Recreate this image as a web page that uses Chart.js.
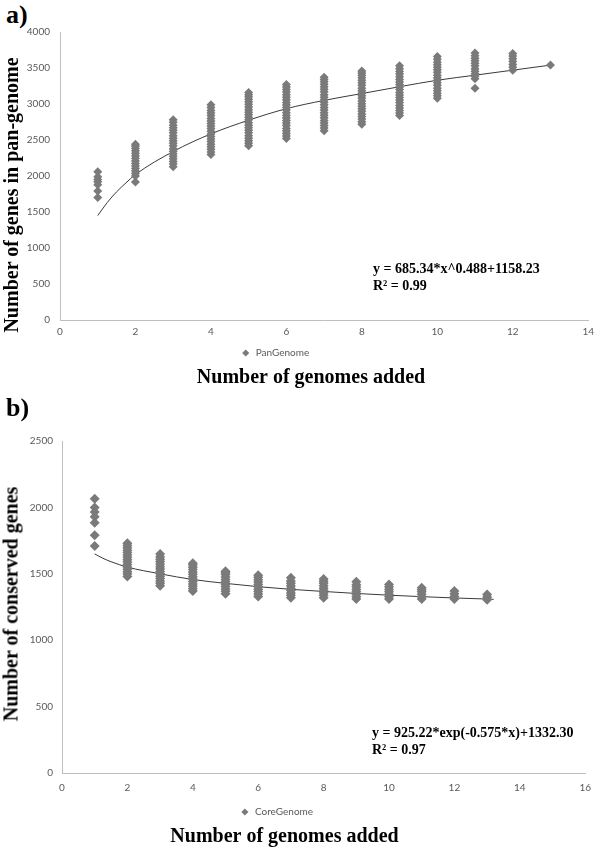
<!DOCTYPE html>
<html lang="en">
<head>
<meta charset="UTF-8">
<title>Pan-genome / core-genome</title>
<script src="https://cdn.jsdelivr.net/npm/chart.js"></script>
<style>
  body { margin: 0; width: 600px; height: 848px; background: #fff; position: relative; overflow: hidden; }
  .panel { position: absolute; left: 0; width: 600px; }
  .tag { position: absolute; font: bold 26px 'Liberation Serif', 'Times New Roman', serif; color: #000; line-height: 26px; }
  .eq { position: absolute; font: bold 14px 'Liberation Serif', 'Times New Roman', serif; line-height: 17px; color: #000; white-space: nowrap; }
  .ytitle { position: absolute; font: bold 20px 'Liberation Serif', 'Times New Roman', serif; color: #000; white-space: nowrap;
            transform: translate(-50%, -50%) rotate(-90deg); }
</style>
</head>
<body>
  <div class="tag" style="left:6px; top:2px;">a)</div>
  <div class="panel" style="top:0; height:395px;"><canvas id="panChart"></canvas></div>
  <div class="ytitle" style="left:11px; top:195px;">Number of genes in pan-genome</div>
  <div class="eq" style="left:373px; top:260px;">y = 685.34*x^0.488+1158.23<br>R² = 0.99</div>

  <div class="tag" style="left:6px; top:395px;">b)</div>
  <div class="panel" style="top:395px; height:453px;"><canvas id="coreChart"></canvas></div>
  <div class="ytitle" style="left:11px; top:604px;">Number of conserved genes</div>
  <div class="eq" style="left:372px; top:724px;">y = 925.22*exp(-0.575*x)+1332.30<br>R² = 0.97</div>

<script>
  // genomes added (x positions of the columns)
  const genomesAdded = [1, 2, 3, 4, 5, 6, 7, 8, 9, 10, 11, 12, 13];

  // pan-genome sizes read per column
  const panGenome = [
    [2060, 1990, 1950, 1920, 1880, 1790, 1700],
    [1915, 2000, 2035, 2070, 2105, 2140, 2175, 2210, 2245, 2280, 2315, 2350, 2385, 2415, 2440],
    [2130, 2165, 2200, 2240, 2275, 2310, 2345, 2380, 2420, 2455, 2490, 2525, 2560, 2600, 2635, 2670, 2705, 2745, 2780],
    [2300, 2335, 2370, 2405, 2440, 2480, 2515, 2550, 2585, 2620, 2660, 2695, 2730, 2765, 2800, 2840, 2875, 2910, 2950, 2990],
    [2420, 2455, 2490, 2525, 2560, 2600, 2635, 2670, 2705, 2740, 2780, 2815, 2850, 2885, 2920, 2960, 2995, 3030, 3065, 3100, 3130, 3160],
    [2520, 2555, 2590, 2625, 2660, 2700, 2735, 2770, 2805, 2840, 2880, 2915, 2950, 2985, 3020, 3060, 3095, 3130, 3165, 3200, 3235, 3270],
    [2630, 2665, 2700, 2735, 2770, 2810, 2845, 2880, 2915, 2950, 2990, 3025, 3060, 3095, 3130, 3170, 3205, 3240, 3275, 3310, 3340, 3370],
    [2720, 2755, 2790, 2825, 2860, 2900, 2935, 2970, 3005, 3040, 3080, 3115, 3150, 3185, 3220, 3260, 3295, 3330, 3365, 3400, 3430, 3460],
    [2840, 2875, 2910, 2945, 2980, 3020, 3055, 3090, 3125, 3160, 3200, 3235, 3270, 3305, 3340, 3380, 3415, 3450, 3490, 3530],
    [3080, 3115, 3150, 3185, 3220, 3260, 3295, 3330, 3365, 3400, 3440, 3475, 3510, 3545, 3580, 3620, 3660],
    [3220, 3350, 3385, 3420, 3455, 3490, 3530, 3565, 3600, 3635, 3670, 3710],
    [3470, 3510, 3550, 3590, 3630, 3665, 3700],
    [3540]
  ];
  // fitted curve as drawn in the figure
  const panTrendX = [1, 1.25, 1.5, 1.75, 2, 3, 4, 5, 6, 7, 8, 9, 10, 11, 12, 13];
  const panTrend = [1450, 1630, 1780, 1905, 2020, 2340, 2585, 2775, 2935, 3050, 3145, 3240, 3330, 3400, 3470, 3540];

  // core-genome sizes read per column
  const coreGenome = [
    [2065, 2000, 1965, 1930, 1885, 1790, 1710],
    [1480, 1498, 1516, 1534, 1552, 1570, 1588, 1606, 1624, 1642, 1660, 1678, 1696, 1714, 1730],
    [1410, 1428, 1446, 1464, 1482, 1500, 1518, 1536, 1554, 1572, 1590, 1608, 1626, 1650],
    [1370, 1388, 1406, 1424, 1442, 1460, 1478, 1496, 1514, 1532, 1550, 1566, 1580],
    [1350, 1368, 1386, 1404, 1422, 1440, 1458, 1476, 1494, 1508, 1520],
    [1330, 1348, 1366, 1384, 1402, 1420, 1438, 1456, 1474, 1490],
    [1320, 1338, 1356, 1374, 1392, 1410, 1428, 1446, 1470],
    [1320, 1338, 1356, 1374, 1392, 1410, 1428, 1444, 1460],
    [1310, 1328, 1346, 1364, 1382, 1400, 1418, 1440],
    [1310, 1328, 1346, 1364, 1382, 1400, 1420],
    [1310, 1328, 1346, 1364, 1380, 1395],
    [1310, 1330, 1350, 1370],
    [1305, 1325, 1345]
  ];
  const coreTrendX = [1, 1.25, 1.5, 1.75, 2, 3, 4, 5, 6, 7, 8, 9, 10, 11, 12, 13, 13.2];
  const coreTrend = [1650, 1617, 1591, 1569, 1550, 1500, 1457, 1428, 1403, 1383, 1367, 1352, 1339, 1328, 1318, 1310, 1308];

  const pointColor = '#7a7a7a';
  const axisColor = '#bfbfbf';
  const tickFont = { family: 'Lato, sans-serif', size: 10 };
  const serifBold = { family: "'Liberation Serif', 'Times New Roman', serif", size: 20, weight: 'bold', lineHeight: 1 };

  // nudges the full-width legend/title boxes sideways, like the original figure
  const shiftBoxes = {
    id: 'shiftBoxes',
    afterLayout(chart, args, opts) {
      if (chart.legend) { chart.legend.left += opts.legendDx; chart.legend.right += opts.legendDx; }
      if (chart.titleBlock) { chart.titleBlock.left += opts.titleDx; chart.titleBlock.right += opts.titleDx; }
    }
  };

  function columnsToPoints(xs, cols) {
    const pts = [];
    xs.forEach((x, i) => cols[i].forEach(y => pts.push({ x: x, y: y })));
    return pts;
  }

  function makeChart(id, s) {
    return new Chart(document.getElementById(id), {
      type: 'scatter',
      data: {
        datasets: [{
          label: s.label,
          data: s.points,
          pointStyle: 'rectRot',
          pointRadius: s.radius,
          backgroundColor: pointColor,
          borderColor: pointColor,
          borderWidth: 0
        }, {
          label: 'trend',
          data: s.trend,
          showLine: true,
          pointRadius: 0,
          borderColor: '#3a3a3a',
          borderWidth: 1,
          cubicInterpolationMode: 'monotone'
        }]
      },
      options: {
        responsive: true,
        maintainAspectRatio: false,
        animation: false,
        layout: { padding: { left: 0, right: s.padRight, top: s.padTop, bottom: s.padBottom } },
        scales: {
          x: {
            min: 0, max: s.xMax,
            grid: { display: false, drawTicks: false },
            border: { display: true, color: axisColor, width: 1 },
            ticks: { stepSize: 2, color: '#595959', font: tickFont, padding: s.xTickPad, maxRotation: 0, callback: v => String(v) },
            afterFit: sc => { sc.height = s.xHeight; }
          },
          y: {
            min: 0, max: s.yMax,
            grid: { display: false, drawTicks: false },
            border: { display: true, color: axisColor, width: 1 },
            ticks: { stepSize: 500, color: '#595959', font: tickFont, padding: s.yTickPad, callback: v => String(v) },
            afterFit: sc => { sc.width = s.yWidth; }
          }
        },
        plugins: {
          legend: {
            position: 'bottom',
            labels: {
              usePointStyle: true, boxHeight: 5, color: '#595959', font: tickFont, padding: s.legendPad,
              filter: item => item.datasetIndex === 0
            }
          },
          title: { display: true, position: 'bottom', text: 'Number of genomes added', color: '#000', font: serifBold, padding: 0 },
          tooltip: { enabled: false },
          shiftBoxes: { legendDx: s.legendDx, titleDx: s.titleDx }
        }
      },
      plugins: [shiftBoxes]
    });
  }

  makeChart('panChart', {
    label: 'PanGenome',
    points: columnsToPoints(genomesAdded, panGenome),
    trend: panTrendX.map((x, i) => ({ x: x, y: panTrend[i] })),
    radius: 4.5,
    xMax: 14, yMax: 4000,
    padTop: 32, padRight: 6, padBottom: 7,
    xHeight: 22, xTickPad: 6, yWidth: 60, yTickPad: 10,
    legendPad: 6, legendDx: -22, titleDx: 14
  });

  makeChart('coreChart', {
    label: 'CoreGenome',
    points: columnsToPoints(genomesAdded, coreGenome),
    trend: coreTrendX.map((x, i) => ({ x: x, y: coreTrend[i] })),
    radius: 5,
    xMax: 16, yMax: 2500,
    padTop: 46, padRight: 7, padBottom: 1,
    xHeight: 25, xTickPad: 9, yWidth: 62, yTickPad: 9,
    legendPad: 9, legendDx: -20, titleDx: -12
  });
</script>
</body>
</html>
